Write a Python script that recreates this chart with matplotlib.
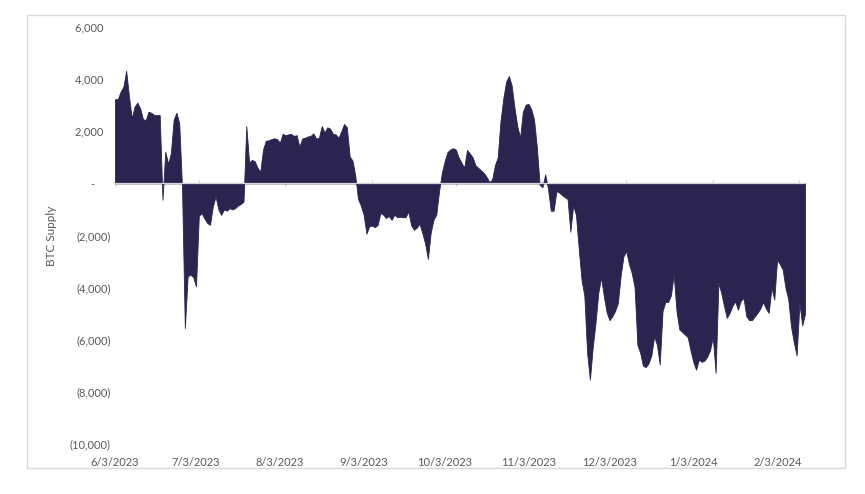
import matplotlib
matplotlib.use("Agg")
import matplotlib.pyplot as plt
from matplotlib.patches import Rectangle
import pandas as pd
import numpy as np

plt.rcParams['font.family'] = ['Lato', 'DejaVu Sans']

start_date = "2023-06-03"
btc_supply = [
    3230, 3230, 3520, 3710, 4320, 3330, 2500, 2940, 3100, 2880,
    2460, 2430, 2750, 2710, 2620, 2620, 2620, -630, 1220, 750,
    1160, 2450, 2710, 2300, -200, -5550, -3570, -3500, -3600, -3950,
    -1250, -1140, -1350, -1520, -1590, -890, -500, -1000, -1210, -1000,
    -1050, -950, -1000, -950, -850, -790, -700, 2200, 800, 900,
    850, 600, 450, 1300, 1640, 1650, 1700, 1730, 1700, 1560,
    1900, 1850, 1880, 1900, 1820, 1850, 1410, 1720, 1750, 1800,
    1820, 1920, 1720, 1750, 2200, 1950, 2150, 2100, 1900, 1880,
    1750, 2000, 2280, 2150, 1030, 880, 300, -600, -850, -1200,
    -1930, -1650, -1620, -1680, -1600, -1140, -1200, -1330, -1250, -1400,
    -1200, -1300, -1280, -1300, -1300, -1080, -1600, -1780, -1700, -1550,
    -1900, -2300, -2900, -1900, -1400, -1200, -300, 400, 850, 1200,
    1300, 1350, 1300, 1000, 800, 600, 1280, 1150, 1000, 700,
    600, 500, 400, 250, 50, 150, 700, 1000, 2400, 3260,
    3900, 4120, 3750, 2900, 2200, 1750, 2750, 3020, 3050, 2850,
    2450, 1400, -50, -150, 350, -200, -1050, -1050, -300, -350,
    -450, -530, -600, -1850, -850, -1200, -2500, -3700, -4300, -6500,
    -7530, -6300, -5360, -4200, -3600, -4340, -4950, -5250, -5100, -4900,
    -4600, -3550, -2800, -2600, -3100, -3450, -4000, -6200, -6500, -7000,
    -7050, -6900, -6600, -5870, -6200, -6950, -4900, -4550, -4550, -4300,
    -3500, -4900, -5600, -5700, -5800, -5900, -6400, -6850, -7150, -6760,
    -6850, -6800, -6650, -6400, -5900, -7270, -3820, -4200, -4700, -5160,
    -4970, -4700, -4530, -4850, -4500, -4400, -5100, -5250, -5250, -5100,
    -4970, -4800, -4550, -4800, -4970, -4000, -4460, -2930, -3100, -3300,
    -4000, -4440, -5500, -6100, -6600, -4600, -5450, -5000,
]
month_ticks = ["2023-06-03", "2023-07-03", "2023-08-03", "2023-09-03", "2023-10-03",
               "2023-11-03", "2023-12-03", "2024-01-03", "2024-02-03"]
month_labels = ["6/3/2023", "7/3/2023", "8/3/2023", "9/3/2023", "10/3/2023",
                "11/3/2023", "12/3/2023", "1/3/2024", "2/3/2024"]
y_ticks = [6000, 4000, 2000, 0, -2000, -4000, -6000, -8000, -10000]

dates = pd.date_range(start_date, periods=len(btc_supply), freq="D")
values = np.array(btc_supply, dtype=float)

W, H = 865, 494
fig = plt.figure(figsize=(W / 100, H / 100), dpi=100)
ax = fig.add_axes([115 / W, 1 - 444 / H, (805 - 115) / W, (444 - 27) / H])

fill_color = "#2b2350"
ax.fill_between(dates, values, 0, color=fill_color, linewidth=0.6, edgecolor=fill_color, zorder=2)
ax.axhline(0, color="#d2d2da", lw=0.9, zorder=3)

ax.set_xlim(dates[0], dates[-1])
ax.set_ylim(-10000, 6000)
for s in ax.spines.values():
    s.set_visible(False)

# y ticks (accounting style)
def fmt(v):
    if v == 0:
        return "-\u2007\u2007\u2008"
    if v < 0:
        return "({:,.0f})".format(-v)
    return "{:,.0f}\u2002\u2009".format(v)

ax.set_yticks(y_ticks)
ax.set_yticklabels([fmt(v) for v in y_ticks])
ax.tick_params(axis="y", length=0, pad=3, labelsize=8, labelcolor="#595959")

# x labels (placed as in the reference) and tick marks on the zero line
t0 = pd.Timestamp(start_date)
label_scale = 0.968
label_pos = [t0 + (pd.Timestamp(d) - t0) * label_scale for d in month_ticks]
ax.set_xticks(label_pos)
ax.set_xticklabels(month_labels)
ax.tick_params(axis="x", length=0, pad=9, labelsize=8, labelcolor="#595959")

zero_frac = (0 - (-10000)) / 16000
sec = ax.secondary_xaxis(zero_frac)
sec.set_xticks([pd.Timestamp(d) for d in month_ticks])
sec.set_xticklabels([])
sec.tick_params(axis="x", direction="inout", length=4, width=1, color="#d2d2da")
for s in sec.spines.values():
    s.set_visible(False)

ax.set_ylabel("BTC Supply", fontsize=8.5, color="#595959")
ax.yaxis.set_label_coords(-0.084, 0.5)

fig.patches.append(Rectangle((27 / W, 1 - 468 / H), (845 - 27) / W, (468 - 15) / H,
                             transform=fig.transFigure, fill=False,
                             edgecolor="#d9d9d9", lw=1))

fig.savefig("out.png", dpi=100)
